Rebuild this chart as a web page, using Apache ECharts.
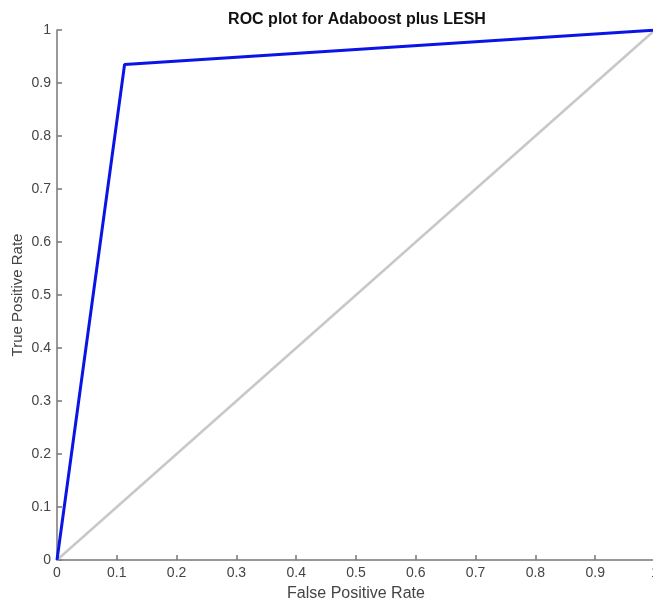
<!DOCTYPE html>
<html>
<head>
<meta charset="utf-8">
<script src="https://cdn.jsdelivr.net/npm/echarts@6/dist/echarts.min.js"></script>
<style>
  html, body { margin: 0; padding: 0; background: #fff; }
  #chart { width: 653px; height: 598px; }
</style>
</head>
<body>
<div id="chart"></div>
<script>
// ROC curve points (false positive rate, true positive rate)
const rocFpr = [0, 0.113, 1];
const rocTpr = [0, 0.935, 1];
// chance diagonal
const diagFpr = [0, 1];
const diagTpr = [0, 1];

const axisTicks = [0, 0.1, 0.2, 0.3, 0.4, 0.5, 0.6, 0.7, 0.8, 0.9, 1];

const font = 'Liberation Sans, Arial, Helvetica, sans-serif';

let chart = echarts.init(document.getElementById('chart'));

let axisCommon = {
  type: 'value',
  min: axisTicks[0],
  max: axisTicks[axisTicks.length - 1],
  interval: 0.1,
  nameLocation: 'middle',
  nameMoveOverlap: false,
  nameTextStyle: { fontFamily: font, fontSize: 15, color: '#444' },
  axisLine: { show: true, lineStyle: { color: '#777', width: 1.5 } },
  axisTick: { show: true, inside: true, length: 5, lineStyle: { color: '#777', width: 1.5 } },
  axisLabel: { fontFamily: font, fontSize: 14, color: '#444' },
  splitLine: { show: false }
};

let option = {
  animation: false,
  backgroundColor: '#fff',
  title: {
    text: 'ROC plot for Adaboost plus LESH',
    left: 352,
    top: 7,
    textAlign: 'center',
    textStyle: { fontFamily: font, fontSize: 16, fontWeight: 'bold', color: '#111' }
  },
  grid: { left: 57, right: -2, top: 30, bottom: 38, outerBoundsMode: 'none', containLabel: false },
  xAxis: Object.assign({}, axisCommon, {
    name: 'False Positive Rate',
    nameGap: 26,
    nameTextStyle: Object.assign({}, axisCommon.nameTextStyle, { fontSize: 16 }),
    axisLabel: Object.assign({}, axisCommon.axisLabel, { margin: 6 })
  }),
  yAxis: Object.assign({}, axisCommon, {
    name: 'True Positive Rate',
    nameGap: 32,
    axisLabel: Object.assign({}, axisCommon.axisLabel, { margin: 6 })
  }),
  series: [
    {
      type: 'line',
      data: diagFpr.map((x, i) => [x, diagTpr[i]]),
      symbol: 'none',
      lineStyle: { color: '#c8c8c8', width: 2.5 },
      z: 2
    },
    {
      type: 'line',
      data: rocFpr.map((x, i) => [x, rocTpr[i]]),
      symbol: 'none',
      lineStyle: { color: '#0a14e6', width: 3 },
      z: 3
    }
  ]
};

chart.setOption(option);
</script>
</body>
</html>
